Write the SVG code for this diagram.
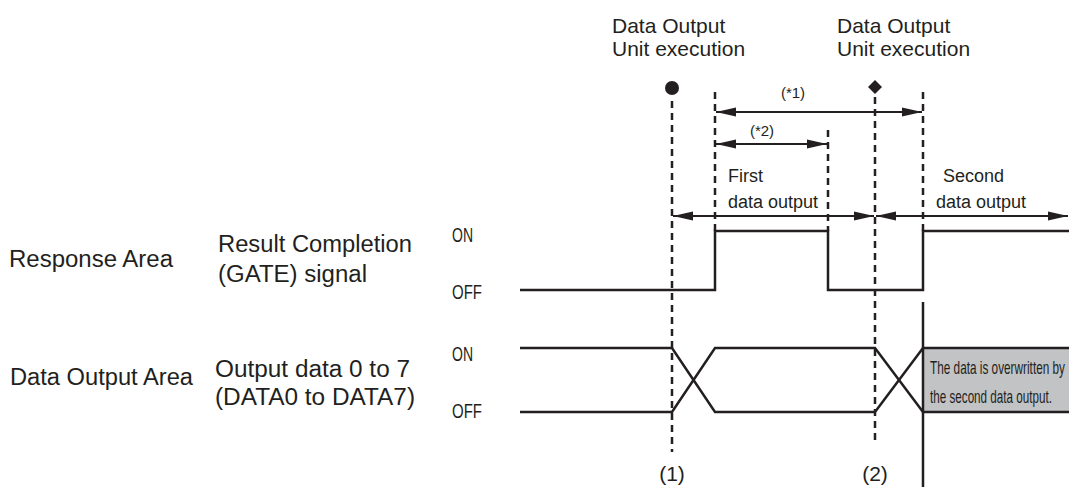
<svg xmlns="http://www.w3.org/2000/svg" width="1069" height="487" viewBox="0 0 1069 487">
<style>
text{font-family:"Liberation Sans",Arial,sans-serif;fill:#231f20}
.hdr{font-size:21px}
.lbl{font-size:23px}
.lvl{font-size:21px}
.note{font-size:15px}
.sm{font-size:18px}
.box{font-size:19px}
.sig{fill:none;stroke:#231f20;stroke-width:2.5;stroke-linejoin:miter}
.dash{fill:none;stroke:#231f20;stroke-width:2.5;stroke-dasharray:7 5}
.arr{fill:none;stroke:#231f20;stroke-width:2;marker-start:url(#ah);marker-end:url(#ah)}
</style>
<defs>
<marker id="ah" viewBox="0 0 20 10" refX="20" refY="5" markerWidth="20" markerHeight="10" markerUnits="userSpaceOnUse" orient="auto-start-reverse">
<path d="M0,0.5 L20,5 L0,9.5 z" fill="#231f20"/>
</marker>
</defs>
<rect width="1069" height="487" fill="#fff"/>

<g id="header1">
<text class="hdr" x="612" y="33">Data Output</text>
<text class="hdr" x="612" y="56">Unit execution</text>
<circle cx="672" cy="88" r="7" fill="#231f20"/>
</g>
<g id="header2">
<text class="hdr" x="837" y="33">Data Output</text>
<text class="hdr" x="837" y="56">Unit execution</text>
<path d="M875,80 L882,87 L875,94 L868,87 z" fill="#231f20"/>
</g>

<g id="labels-response">
<text class="lbl" x="9" y="267" textLength="164" lengthAdjust="spacingAndGlyphs">Response Area</text>
<text class="lbl" x="218" y="252" textLength="194" lengthAdjust="spacingAndGlyphs">Result Completion</text>
<text class="lbl" x="218" y="282" textLength="149" lengthAdjust="spacingAndGlyphs">(GATE) signal</text>
<text class="lvl" x="452" y="242" textLength="21" lengthAdjust="spacingAndGlyphs">ON</text>
<text class="lvl" x="452" y="299" textLength="30" lengthAdjust="spacingAndGlyphs">OFF</text>
</g>
<g id="labels-data">
<text class="lbl" x="10" y="385" textLength="183" lengthAdjust="spacingAndGlyphs">Data Output Area</text>
<text class="lbl" x="215" y="377" textLength="195" lengthAdjust="spacingAndGlyphs">Output data 0 to 7</text>
<text class="lbl" x="215" y="405" textLength="200" lengthAdjust="spacingAndGlyphs">(DATA0 to DATA7)</text>
<text class="lvl" x="452" y="361" textLength="21" lengthAdjust="spacingAndGlyphs">ON</text>
<text class="lvl" x="452" y="418" textLength="30" lengthAdjust="spacingAndGlyphs">OFF</text>
</g>

<g id="gate-signal">
<path class="sig" d="M520,290 H715 V231 H828 V290 H923 V231 H1069"/>
</g>

<g id="overwrite-box">
<rect x="923" y="348" width="146" height="64" fill="#c2c3c5"/>
<text class="box" x="930" y="374" textLength="135" lengthAdjust="spacingAndGlyphs">The data is overwritten by</text>
<text class="box" x="930" y="403" textLength="122" lengthAdjust="spacingAndGlyphs">the second data output.</text>
</g>

<g id="data-signal">
<path class="sig" d="M520,348 H672 L715,412 H875 L923,348 H1069"/>
<path class="sig" d="M520,412 H672 L715,348 H875 L923,412 H1069"/>
</g>

<g id="timing-lines">
<path class="dash" d="M672,101 V452"/>
<path class="dash" d="M715,92 V231"/>
<path class="dash" d="M828,130 V231"/>
<path class="dash" d="M875,97 V444"/>
<path class="dash" d="M923,92 V231"/>
<path d="M923,302 V487" stroke="#231f20" stroke-width="2.5" fill="none"/>
<text class="hdr" x="672" y="481" text-anchor="middle">(1)</text>
<text class="hdr" x="875" y="481" text-anchor="middle">(2)</text>
</g>

<g id="connectors">
<path class="arr" d="M716,112 H922"/>
<text class="note" x="793" y="98" text-anchor="middle">(*1)</text>
<path class="arr" d="M716,144 H827"/>
<text class="note" x="762" y="136" text-anchor="middle">(*2)</text>
<path class="arr" d="M673,216 H874"/>
<path class="arr" d="M876,216 H1068"/>
<text class="sm" x="728" y="182">First</text>
<text class="sm" x="728" y="208">data output</text>
<text class="sm" x="943" y="182">Second</text>
<text class="sm" x="936" y="208">data output</text>
</g>
</svg>
